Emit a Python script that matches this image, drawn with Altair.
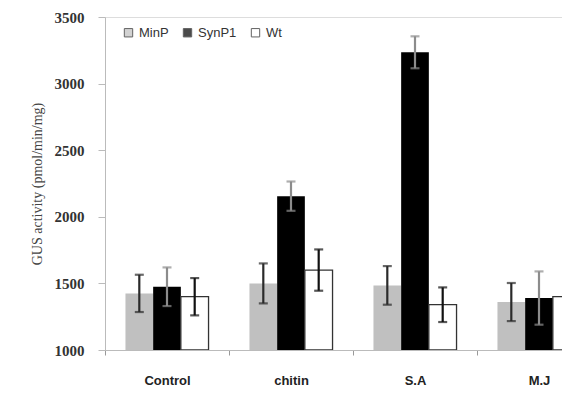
import altair as alt
import pandas as pd

categories = ["Control", "chitin", "S.A", "M.J"]
series = ["MinP", "SynP1", "Wt"]
minp = [1425, 1500, 1485, 1360]
minp_err = [140, 150, 145, 143]
synp1 = [1475, 2155, 3235, 1390]
synp1_err = [145, 110, 120, 200]
wt = [1400, 1600, 1340, 1400]
wt_err = [140, 155, 130, 140]

fills = {"MinP": "#c0c0c0", "SynP1": "#000000", "Wt": "#ffffff"}
ecols = {"MinP": "#2a2a2a", "SynP1": "#8c8c8c", "Wt": "#111111"}

rows = []
for s, vals, errs in [("MinP", minp, minp_err), ("SynP1", synp1, synp1_err), ("Wt", wt, wt_err)]:
    for c, v, e in zip(categories, vals, errs):
        rows.append({"cat": c, "series": s, "value": v, "lo": v - e, "hi": v + e,
                     "ecol": ecols[s]})
df = pd.DataFrame(rows)

xenc = alt.X("cat:N", sort=categories, title=None,
             scale=alt.Scale(range=[0, 496], paddingInner=0.33, paddingOuter=0.165),
             axis=alt.Axis(labelAngle=0, bandPosition=0, tickOffset=-20.5, labelOffset=20.5,
                           tickSize=5, tickColor="#999999",
                           domainColor="#bbbbbb", labelFont="Liberation Sans", labelFontWeight="bold",
                           labelFontSize=13, labelColor="#222222", labelPadding=19))
xoff = alt.XOffset("series:N", sort=series, scale=alt.Scale(paddingInner=0, paddingOuter=0))
yscale = alt.Scale(domain=[1000, 3500], nice=False, zero=False)

bars = alt.Chart(df).mark_bar(stroke="#333333", strokeWidth=1.3, clip=True).encode(
    x=xenc, xOffset=xoff,
    y=alt.Y("value:Q", scale=yscale, title="GUS activity (pmol/min/mg)",
            axis=alt.Axis(values=[1000, 1500, 2000, 2500, 3000, 3500], format="d", grid=False,
                          tickSize=7, tickColor="#bbbbbb", domainColor="#bbbbbb",
                          labelFont="Liberation Serif", labelFontWeight="bold", labelFontSize=15,
                          labelColor="#333333", labelPadding=14, titleFont="Liberation Serif",
                          titleFontSize=14, titleFontWeight="normal", titleColor="#444444",
                          titlePadding=10)),
    y2=alt.datum(1000),
    color=alt.Color("series:N", sort=series,
                    scale=alt.Scale(domain=series, range=[fills[s] for s in series]),
                    legend=alt.Legend(title=None, orient="none", legendX=17, legendY=9,
                                      direction="horizontal", symbolType="square", symbolSize=70,
                                      symbolStrokeColor="#222222", symbolStrokeWidth=1,
                                      labelFont="Liberation Sans", labelFontSize=13,
                                      labelColor="#333333", columnPadding=12, labelOffset=4)),
    strokeOpacity=alt.condition(alt.datum.series == "Wt", alt.value(1), alt.value(0)),
)

rules = alt.Chart(df).mark_rule(strokeWidth=2.2, clip=True).encode(
    x=alt.X("cat:N", sort=categories), xOffset=xoff,
    y=alt.Y("lo:Q", scale=yscale), y2="hi:Q",
    color=alt.Color("ecol:N", scale=None),
)
caps_lo = alt.Chart(df).mark_tick(size=9, thickness=2.2, clip=True).encode(
    x=alt.X("cat:N", sort=categories), xOffset=xoff,
    y=alt.Y("lo:Q", scale=yscale),
    color=alt.Color("ecol:N", scale=None),
)
caps_hi = alt.Chart(df).mark_tick(size=9, thickness=2.2, clip=True).encode(
    x=alt.X("cat:N", sort=categories), xOffset=xoff,
    y=alt.Y("hi:Q", scale=yscale),
    color=alt.Color("ecol:N", scale=None),
)

chart = alt.layer(bars, rules, caps_lo, caps_hi).properties(
    width=457, height=333,
    autosize=alt.AutoSizeParams(type="none"),
    padding={"left": 97, "top": 9, "right": 0, "bottom": 44},
).configure_view(stroke=None).configure(background="#ffffff")

chart.save("out.html", embed_options={"renderer": "svg", "actions": False})
